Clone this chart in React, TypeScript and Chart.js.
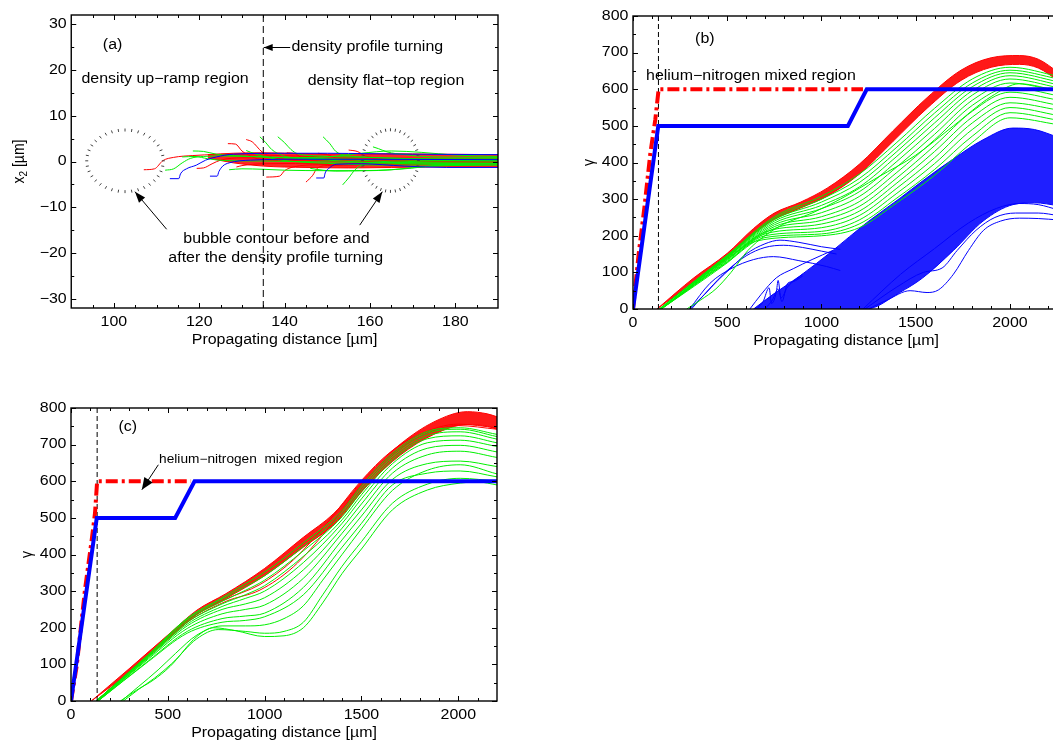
import React, { useEffect, useRef } from 'react';
import { Chart, registerables } from 'chart.js';

Chart.register(...registerables);

type P = [number, number];

const RED = '#ff0000';
const GREEN = '#00f000';
const BLUE = '#0000ff';
const SX = 1.14;
const FONT = '"Liberation Sans", Arial, Helvetica, sans-serif';

/* ================= panel (a) ================= */
const A_X_RANGE = [90, 190];
const A_Y_RANGE = [-32, 32];
const A_X_TICKS = [100, 120, 140, 160, 180];
const A_Y_TICKS = [-30, -20, -10, 0, 10, 20, 30];
const A_TURN_X = 135;
const A_BAND_X = [122, 128, 135, 145, 155, 165, 175, 190];
const A_BAND_TOP = [1.5, 1.8, 1.9, 1.7, 1.6, 1.7, 1.6, 1.5];
const A_BAND_BOT = [0.8, -0.3, -1.0, -1.3, -1.4, -1.3, -1.2, -1.2];
const A_RED: P[][] = [
  [[107, -1.8], [109.5, -1.6], [111.5, 0.2], [114, 0.9], [118.5, 1.3], [124, 1.5], [135, 1.4], [150, 1.0], [170, 0.7], [190, 0.6]],
  [[126.7, 3.9], [128.5, 3.8], [130, 2.3], [132, 1.2], [134.2, 0.5], [140, 0.2], [160, 0.0], [190, -0.2]],
  [[131, 4.8], [132.4, 4.3], [134.7, 2.1], [138, 0.7], [145, 0.4], [170, 0.3], [190, 0.2]],
  [[135.7, -3.4], [138.8, -3.2], [140, -2.0], [142, -1.2], [148, -0.7], [170, -0.5], [190, -0.5]],
  [[145, -4.5], [146.6, -3.0], [147.5, -1.6], [150, -0.9], [165, -0.7], [190, -0.6]],
  [[128.7, -1.2], [130, -0.9], [135, -0.5], [150, -0.4], [190, -0.3]],
  [[140.5, 1.9], [142.5, 1.7], [144, 0.8], [146, 0.3], [160, 0.1], [190, 0.0]],
  [[119.4, -1.5], [121, -1.4], [123, -0.5], [125, 0.3], [130, 0.8], [150, 0.6], [190, 0.4]],
  [[147.8, 1.8], [150, 1.5], [152, 0.8], [160, 0.4], [190, 0.3]],
  [[155, 2.5], [157, 2.2], [159, 1.2], [165, 0.6], [190, 0.5]],
];
const A_GREEN: P[][] = [
  [[112, -1.9], [114, -1.6], [116, -0.3], [118, 0.7], [121, 1.1], [125, 1.2], [135, 1.0], [150, 0.6], [170, 0.3], [190, 0.2]],
  [[118.5, 2.3], [121, 2.2], [124, 1.6], [130, 1.2], [140, 0.8], [155, 0.4], [170, -0.3], [190, -0.5]],
  [[134.2, 5.4], [135.5, 4.2], [137, 2.6], [139.5, 1.3], [142, 0.8], [150, 0.3], [165, -0.4], [190, -0.6]],
  [[138.4, 5.4], [140, 4.1], [141.5, 2.6], [143, 1.7], [148, 1.2], [160, 0.9], [175, 0.5], [190, 0.4]],
  [[149, 5.4], [150.5, 4.0], [152, 2.2], [154, 1.4], [160, 0.9], [175, 0.6], [190, 0.6]],
  [[153.6, -5.1], [155, -3.6], [156.5, -1.8], [158, -0.9], [165, -0.2], [180, 0.2], [190, 0.2]],
  [[160.7, 3.2], [162, 2.8], [164, 2.1], [168, 1.5], [175, 1.0], [190, 0.9]],
  [[127, -1.8], [130, -1.6], [135, -1.7], [140, -1.9], [150, -2.0], [160, -2.0], [168, -1.6], [175, -1.0], [190, -0.8]],
  [[140, 0.8], [150, 1.0], [158, 1.8], [165, 2.3], [172, 2.0], [180, 1.4], [190, 1.1]],
  [[131, 2.4], [133, 1.7], [136, 0.9], [140, 0.2], [150, -0.4], [165, -0.8], [190, -0.4]],
  [[146, -1.5], [149, -1.9], [152, -2.1], [158, -2.0], [165, -1.8], [175, -0.9], [190, -0.4]],
  [[116, 1.0], [119, 1.1], [122, 0.6], [126, 0.2], [135, 0.1], [160, -0.2], [190, -0.1]],
];
const A_BLUE: P[][] = [
  [[113.1, -3.75], [115.2, -3.75], [115.6, -2.7], [117, -1.6], [119.3, -0.8], [121.5, 0.3], [124, 1.0], [128, 1.6], [140, 1.8], [150, 1.8], [160, 1.7], [170, 1.6], [190, 1.5]],
  [[122.5, -3.2], [124.2, -3.2], [124.6, -2.2], [125.5, -1.0], [127, -0.3], [132, 0.3], [145, 0.5], [190, 0.4]],
  [[147.4, -3.6], [149.2, -3.6], [149.5, -2.5], [150.5, -1.4], [152.1, -0.6], [158, -0.5], [168, -1.0], [178, -1.3], [190, -1.3]],
];
const BUBBLE_CX = [102.6, 164.8];
const BUBBLE_CY = [0.15, 0.2];
const BUBBLE_RX = [8.97, 6.56];
const BUBBLE_RY = [6.73, 6.73];

/* ================= panel (b) ================= */
const B_X_RANGE = [0, 2260];
const B_Y_RANGE = [0, 800];
const B_X_TICKS = [0, 500, 1000, 1500, 2000];
const B_Y_TICKS = [0, 100, 200, 300, 400, 500, 600, 700, 800];
const B_TURN_X = 135;
const B_BLUE_STEP_X = [0, 134, 1140, 1240, 2260];
const B_BLUE_STEP_Y = [0, 500, 500, 600, 600];
const B_RED_STEP_X = [0, 30, 60, 92, 118, 136, 1220];
const B_RED_STEP_Y = [0, 150, 275, 425, 516, 600, 600];
const B_MASS_X = [640, 743, 885, 1061, 1238, 1415, 1537, 1700, 1857, 2016, 2130, 2260];
const B_MASS_TOP = [0, 40, 90, 160, 235, 302, 350, 410, 462, 494, 490, 468];
const B_MASS_BOT = [0, 0, 0, 0, 0, 45, 85, 160, 240, 285, 290, 282];
const B_RED_X = [127, 320, 500, 640, 750, 890, 1030, 1200, 1380, 1560, 1740, 1900, 2050, 2150, 2260];
const B_RED_TOP = [0, 84, 152, 220, 262, 292, 330, 395, 487, 577, 652, 686, 692, 682, 645];
const B_RED_BOT = [0, 72, 140, 205, 245, 276, 308, 368, 458, 548, 624, 660, 668, 658, 622];
const B_BLUE_LINES: P[][] = [
  [[300, 0], [380, 40], [450, 78], [520, 112], [600, 150], [700, 178], [780, 188], [880, 182], [1000, 170], [1100, 163]],
  [[310, 0], [400, 52], [500, 105], [600, 145], [700, 168], [800, 174], [900, 168], [1000, 158], [1080, 150]],
  [[300, 0], [408, 70], [520, 110], [640, 135], [745, 143], [880, 132], [1027, 116], [1100, 105]],
  [[655, 0], [690, 20], [722, 58], [735, 15], [760, 45], [770, 78], [785, 30], [820, 60], [900, 95]],
  [[700, 0], [740, 25], [770, 55], [790, 20], [820, 70], [850, 75], [900, 90]],
  [[620, 0], [680, 40], [760, 85], [850, 110], [950, 135], [1060, 160]],
  [[1250, 0], [1350, 25], [1470, 50], [1560, 45], [1620, 52], [1700, 95], [1780, 160], [1860, 215], [1950, 240], [2050, 248], [2150, 247], [2260, 243]],
  [[1230, 0], [1400, 60], [1540, 100], [1640, 112], [1720, 160], [1820, 215], [1920, 250], [2030, 262], [2150, 262], [2260, 255]],
  [[1220, 0], [1420, 95], [1600, 165], [1780, 235], [1930, 275], [2050, 288], [2150, 285], [2260, 270]],
];
const B_GREEN: P[][] = [
  [[140, 0], [500, 147], [750, 252], [1000, 308], [1200, 368], [1400, 455], [1600, 548], [1800, 628], [2000, 660], [2260, 635]],
  [[140, 0], [500, 146], [750, 248], [1000, 300], [1200, 356], [1400, 442], [1600, 535], [1800, 617], [2000, 652], [2260, 628]],
  [[140, 0], [500, 145], [750, 244], [1000, 292], [1200, 345], [1400, 430], [1600, 522], [1800, 607], [2000, 645], [2260, 620]],
  [[150, 0], [500, 143], [750, 240], [1000, 283], [1200, 333], [1400, 417], [1600, 508], [1800, 596], [2000, 637], [2260, 612]],
  [[150, 0], [500, 142], [750, 235], [1000, 274], [1200, 320], [1400, 403], [1600, 493], [1800, 584], [2000, 628], [2260, 604]],
  [[150, 0], [500, 140], [750, 230], [1000, 263], [1200, 307], [1400, 388], [1600, 477], [1800, 570], [2000, 617], [2260, 594]],
  [[150, 0], [500, 138], [750, 225], [1000, 252], [1200, 293], [1400, 373], [1600, 462], [1800, 556], [2000, 605], [2260, 582]],
  [[150, 0], [500, 137], [750, 220], [1000, 242], [1200, 280], [1400, 358], [1600, 446], [1800, 540], [2000, 592], [2260, 570]],
  [[150, 0], [500, 135], [700, 210], [1000, 232], [1200, 267], [1400, 344], [1600, 430], [1800, 524], [2000, 578], [2260, 556]],
  [[150, 0], [500, 133], [700, 205], [1000, 222], [1200, 255], [1400, 330], [1600, 413], [1800, 508], [2000, 563], [2260, 543]],
  [[150, 0], [500, 130], [700, 200], [1000, 212], [1200, 243], [1400, 316], [1600, 397], [1800, 490], [2000, 550], [2260, 528]],
  [[150, 0], [500, 128], [700, 195], [1000, 205], [1200, 232], [1400, 303], [1600, 381], [1800, 472], [2000, 536], [2260, 515]],
  [[150, 0], [500, 126], [650, 185], [1000, 200], [1200, 222], [1400, 290], [1600, 365], [1800, 455], [2000, 522], [2260, 503]],
  [[285, 0], [360, 25], [440, 55], [520, 100], [610, 160], [700, 200], [800, 232], [950, 262], [1100, 300], [1300, 360], [1500, 420], [1700, 500], [1900, 580], [2050, 615], [2260, 595]],
];

/* ================= panel (c) ================= */
const C_X_RANGE = [0, 2200];
const C_Y_RANGE = [0, 800];
const C_X_TICKS = [0, 500, 1000, 1500, 2000];
const C_Y_TICKS = [0, 100, 200, 300, 400, 500, 600, 700, 800];
const C_TURN_X = 135;
const C_BLUE_STEP_X = [0, 133, 538, 638, 2200];
const C_BLUE_STEP_Y = [0, 500, 500, 600, 600];
const C_RED_STEP_X = [0, 29, 72, 107, 124, 135, 620];
const C_RED_STEP_Y = [0, 94, 303, 440, 513, 600, 600];
const C_RED_X = [105, 300, 500, 650, 800, 1000, 1200, 1357, 1530, 1702, 1874, 2047, 2150, 2200];
const C_RED_TOP = [0, 88, 180, 248, 293, 362, 447, 512, 617, 702, 762, 790, 784, 776];
const C_RED_BOT = [0, 78, 168, 236, 280, 342, 420, 482, 588, 672, 728, 755, 750, 742];
const C_RED_LINES: P[][] = [
  [[130, 0], [400, 125], [600, 215], [800, 272], [976, 303], [1148, 366], [1321, 467], [1493, 586], [1650, 670], [1800, 722], [2000, 752], [2200, 742]],
  [[130, 0], [400, 128], [600, 220], [800, 278], [976, 318], [1148, 385], [1321, 485], [1493, 598], [1650, 680], [1800, 728], [2000, 756], [2200, 746]],
];
const C_GREEN: P[][] = [
  [[255, 0], [340, 30], [425, 57], [511, 94], [650, 176], [736, 200], [850, 192], [1000, 176], [1100, 178], [1200, 200], [1300, 268], [1400, 348], [1500, 415], [1660, 522], [1840, 576], [2010, 595], [2100, 598], [2200, 590]],
  [[270, 0], [350, 32], [430, 62], [520, 102], [650, 170], [760, 195], [900, 190], [1000, 185], [1100, 190], [1200, 215], [1300, 290], [1400, 368], [1500, 435], [1660, 540], [1840, 592], [2010, 608], [2200, 600]],
  [[260, 0], [350, 40], [450, 85], [540, 130], [650, 180], [780, 205], [900, 205], [1000, 208], [1100, 225], [1200, 260], [1300, 330], [1400, 400], [1500, 470], [1660, 575], [1840, 630], [2010, 645], [2200, 620]],
  [[140, 0], [400, 108], [600, 185], [780, 215], [900, 220], [1000, 230], [1200, 290], [1400, 420], [1500, 485], [1660, 590], [1840, 622], [2010, 628], [2200, 612]],
  [[140, 0], [400, 110], [600, 190], [780, 225], [900, 232], [1000, 240], [1200, 310], [1400, 440], [1500, 505], [1660, 605], [1840, 648], [2010, 655], [2200, 640]],
  [[140, 0], [400, 115], [600, 198], [780, 238], [900, 250], [1000, 262], [1200, 335], [1400, 458], [1500, 522], [1660, 622], [1840, 672], [2010, 682], [2200, 665]],
  [[140, 0], [400, 118], [600, 205], [780, 250], [900, 265], [1000, 282], [1200, 358], [1400, 472], [1500, 538], [1660, 636], [1840, 690], [2010, 698], [2200, 680]],
  [[135, 0], [400, 120], [600, 210], [780, 258], [900, 280], [1000, 300], [1200, 378], [1400, 485], [1500, 552], [1660, 648], [1840, 705], [2010, 712], [2200, 695]],
  [[135, 0], [400, 122], [600, 215], [780, 265], [900, 290], [1000, 315], [1200, 395], [1400, 495], [1500, 563], [1660, 657], [1840, 716], [2010, 724], [2200, 705]],
  [[130, 0], [400, 124], [600, 220], [780, 272], [900, 302], [1000, 330], [1200, 410], [1400, 503], [1500, 572], [1660, 664], [1840, 724], [2010, 735], [2200, 715]],
  [[130, 0], [400, 126], [600, 224], [780, 278], [900, 312], [1000, 342], [1200, 422], [1400, 512], [1500, 580], [1660, 670], [1840, 731], [2010, 742], [2200, 722]],
  [[130, 0], [400, 127], [600, 226], [780, 282], [900, 320], [1000, 352], [1200, 432], [1400, 520], [1500, 588], [1660, 676], [1840, 736], [2010, 746], [2200, 728]],
];

/* ================= helpers ================= */
const pts = (a: P[]) => a.map(([x, y]) => ({ x, y }));
const zip = (xs: number[], ys: number[]) => xs.map((x, i) => ({ x, y: ys[i] }));

function curve(data: any[], color: string, width: number, order: number, extra: any = {}) {
  return {
    data, borderColor: color, backgroundColor: color, borderWidth: width,
    pointRadius: 0, fill: false, cubicInterpolationMode: 'monotone', order, ...extra,
  };
}
function straight(data: any[], color: string, width: number, order: number, extra: any = {}) {
  return { data, borderColor: color, borderWidth: width, pointRadius: 0, fill: false, tension: 0, order, ...extra };
}
function band(ds: any[], xs: number[], top: number[], bot: number[], color: string, fillColor: string, order: number) {
  const i = ds.length;
  ds.push(curve(zip(xs, top), color, 1, order, { fill: i + 1, backgroundColor: fillColor }));
  ds.push(curve(zip(xs, bot), color, 1, order));
}

function drawText(ctx: CanvasRenderingContext2D, s: string, x: number, y: number, size: number, align: CanvasTextAlign = 'left', rot = 0) {
  ctx.save();
  ctx.translate(x, y);
  ctx.scale(SX, 1);
  if (rot) ctx.rotate(rot);
  ctx.font = `${size}px ${FONT}`;
  ctx.fillStyle = '#000';
  ctx.textAlign = align;
  ctx.textBaseline = 'middle';
  ctx.fillText(s, 0, 0);
  ctx.restore();
}
function drawParts(ctx: CanvasRenderingContext2D, parts: { t: string; size: number; dy: number }[], x: number, y: number, rot: number) {
  ctx.save();
  ctx.translate(x, y);
  ctx.scale(SX, 1);
  ctx.rotate(rot);
  ctx.fillStyle = '#000';
  ctx.textBaseline = 'middle';
  ctx.textAlign = 'left';
  let total = 0;
  parts.forEach((p) => { ctx.font = `${p.size}px ${FONT}`; total += ctx.measureText(p.t).width; });
  let cur = -total / 2;
  parts.forEach((p) => { ctx.font = `${p.size}px ${FONT}`; ctx.fillText(p.t, cur, p.dy); cur += ctx.measureText(p.t).width; });
  ctx.restore();
}
function drawArrow(ctx: CanvasRenderingContext2D, x1: number, y1: number, x2: number, y2: number, head: number, hw: number) {
  ctx.beginPath(); ctx.moveTo(x1, y1); ctx.lineTo(x2, y2); ctx.stroke();
  const a = Math.atan2(y2 - y1, x2 - x1);
  const c = Math.cos(a), s = Math.sin(a);
  ctx.beginPath();
  ctx.moveTo(x2, y2);
  ctx.lineTo(x2 - head * c + hw * s, y2 - head * s - hw * c);
  ctx.lineTo(x2 - head * c - hw * s, y2 - head * s + hw * c);
  ctx.closePath();
  ctx.fill();
}
const fmt = (v: number) => String(v).replace('-', '\u2212');
function minors(min: number, max: number, step: number, majors: number[]) {
  const out: number[] = [];
  for (let k = Math.ceil(min / step - 1e-9); k * step <= max + 1e-9; k++) {
    const v = k * step;
    if (v > min && v < max && !majors.includes(v)) out.push(v);
  }
  return out;
}

function makeDeco(o: any) {
  return {
    id: 'deco',
    afterDatasetsDraw(chart: any) {
      const ctx: CanvasRenderingContext2D = chart.ctx;
      const ca = chart.chartArea;
      const xs = chart.scales.x, ys = chart.scales.y;
      const X = (v: number) => xs.getPixelForValue(v);
      const Y = (v: number) => ys.getPixelForValue(v);
      ctx.save();
      (o.bubbles || []).forEach((b: any) => {
        const cx = X(b.cx), cy = Y(b.cy);
        const rx = Math.abs(X(b.cx + b.rx) - cx), ry = Math.abs(Y(b.cy + b.ry) - cy);
        ctx.strokeStyle = '#444'; ctx.lineWidth = 1;
        for (let i = 0; i < b.n; i++) {
          const t = (2 * Math.PI * i) / b.n;
          const c = Math.cos(t), s = Math.sin(t);
          ctx.beginPath();
          ctx.moveTo(cx + (rx - 1.5) * c, cy + (ry - 1.5) * s);
          ctx.lineTo(cx + (rx + 1.5) * c, cy + (ry + 1.5) * s);
          ctx.stroke();
        }
      });
      ctx.strokeStyle = '#000'; ctx.fillStyle = '#000'; ctx.lineWidth = 1;
      (o.arrows || []).forEach((a: any) => drawArrow(ctx, X(a.x1), Y(a.y1), X(a.x2), Y(a.y2), a.head || 11, a.hw || 4));
      (o.texts || []).forEach((t: any) => drawText(ctx, t.t, X(t.x), Y(t.y), t.size || 14, t.align || 'left'));
      // frame
      ctx.strokeStyle = '#000'; ctx.lineWidth = 1.4;
      ctx.strokeRect(ca.left, ca.top, ca.right - ca.left, ca.bottom - ca.top);
      ctx.lineWidth = 1;
      const tx = (v: number, len: number) => {
        const p = Math.round(X(v)) + 0.5;
        ctx.beginPath(); ctx.moveTo(p, ca.bottom); ctx.lineTo(p, ca.bottom - len);
        ctx.moveTo(p, ca.top); ctx.lineTo(p, ca.top + len); ctx.stroke();
      };
      const ty = (v: number, len: number) => {
        const p = Math.round(Y(v)) + 0.5;
        ctx.beginPath(); ctx.moveTo(ca.left, p); ctx.lineTo(ca.left + len, p);
        ctx.moveTo(ca.right, p); ctx.lineTo(ca.right - len, p); ctx.stroke();
      };
      o.xTicks.forEach((v: number) => tx(v, 5));
      o.yTicks.forEach((v: number) => ty(v, 5));
      minors(o.xRange[0], o.xRange[1], o.xMinor, o.xTicks).forEach((v) => tx(v, 3));
      minors(o.yRange[0], o.yRange[1], o.yMinor, o.yTicks).forEach((v) => ty(v, 3));
      // tick labels
      o.xTicks.forEach((v: number) => drawText(ctx, fmt(v), X(v), ca.bottom + 14, 14, 'center'));
      o.yTicks.forEach((v: number) => drawText(ctx, fmt(v), ca.left - 4.5, Y(v), 14, 'right'));
      // titles
      drawText(ctx, 'Propagating distance [\u00b5m]', (ca.left + ca.right) / 2, ca.bottom + 32, 14, 'center');
      drawParts(ctx, o.yTitle, ca.left - o.yTitleOff, (ca.top + ca.bottom) / 2, -Math.PI / 2);
      ctx.restore();
    },
  };
}

function buildConfig(s: any): any {
  return {
    type: 'line',
    data: { datasets: s.datasets },
    options: {
      animation: false, responsive: false, maintainAspectRatio: false, devicePixelRatio: 1, events: [],
      layout: { padding: { left: s.area.left, top: s.area.top, right: s.w - s.area.right, bottom: s.h - s.area.bottom } },
      elements: { point: { radius: 0 }, line: { capBezierPoints: false } },
      plugins: { legend: { display: false }, tooltip: { enabled: false } },
      scales: {
        x: { type: 'linear', display: false, min: s.deco.xRange[0], max: s.deco.xRange[1] },
        y: { type: 'linear', display: false, min: s.deco.yRange[0], max: s.deco.yRange[1] },
      },
    },
    plugins: [makeDeco(s.deco)],
  };
}

/* ================= panel specs ================= */
function specA() {
  const ds: any[] = [];
  band(ds, A_BAND_X, A_BAND_TOP, A_BAND_BOT, RED, 'rgba(255,0,0,0.85)', 50);
  A_RED.forEach((c) => ds.push(curve(pts(c), RED, 1, 40)));
  A_GREEN.forEach((c) => ds.push(curve(pts(c), GREEN, 1, 30)));
  A_BLUE.forEach((c) => ds.push(curve(pts(c), BLUE, 1, 20)));
  ds.push(straight([{ x: A_TURN_X, y: A_Y_RANGE[0] }, { x: A_TURN_X, y: A_Y_RANGE[1] }], '#000', 1, 10, { borderDash: [7, 4] }));
  return {
    w: 520, h: 360, left: 0, top: 0,
    area: { left: 71.25, top: 15, right: 498, bottom: 308 },
    datasets: ds,
    deco: {
      xRange: A_X_RANGE, yRange: A_Y_RANGE, xTicks: A_X_TICKS, yTicks: A_Y_TICKS, xMinor: 5, yMinor: 5,
      yTitle: [{ t: 'x', size: 14, dy: 0 }, { t: '2', size: 10, dy: 4 }, { t: ' [\u00b5m]', size: 14, dy: 0 }],
      yTitleOff: 51.5,
      bubbles: BUBBLE_CX.map((cx, i) => ({ cx, cy: BUBBLE_CY[i], rx: BUBBLE_RX[i], ry: BUBBLE_RY[i], n: 36 })),
      texts: [
        { t: '(a)', x: 97.4, y: 25.4 },
        { t: 'density up\u2212ramp region', x: 92.4, y: 18.0 },
        { t: 'density profile turning', x: 141.6, y: 24.9 },
        { t: 'density flat\u2212top region', x: 145.4, y: 17.65 },
        { t: 'bubble contour before and', x: 138.1, y: -17.0, align: 'center' },
        { t: 'after the density profile turning', x: 137.9, y: -21.0, align: 'center' },
      ],
      arrows: [
        { x1: 141.3, y1: 24.9, x2: 135.1, y2: 24.9, head: 9, hw: 3.5 },
        { x1: 112.35, y1: -14.8, x2: 104.93, y2: -6.6 },
        { x1: 157.6, y1: -13.9, x2: 162.9, y2: -6.6 },
      ],
    },
  };
}

function specB() {
  const ds: any[] = [];
  band(ds, B_MASS_X, B_MASS_TOP, B_MASS_BOT, BLUE, 'rgba(0,0,255,0.88)', 90);
  B_BLUE_LINES.forEach((c) => ds.push(curve(pts(c), BLUE, 1, 85)));
  band(ds, B_RED_X, B_RED_TOP, B_RED_BOT, RED, 'rgba(255,0,0,0.9)', 60);
  B_GREEN.forEach((c) => ds.push(curve(pts(c), GREEN, 1, 50)));
  ds.push(straight([{ x: B_TURN_X, y: B_Y_RANGE[0] }, { x: B_TURN_X, y: B_Y_RANGE[1] }], '#000', 1, 20, { borderDash: [5, 3] }));
  ds.push(straight(zip(B_RED_STEP_X, B_RED_STEP_Y), RED, 4, 15, { borderDash: [12, 4, 3, 4] }));
  ds.push(straight(zip(B_BLUE_STEP_X, B_BLUE_STEP_Y), BLUE, 4, 10));
  return {
    w: 520, h: 360, left: 560, top: 0,
    area: { left: 73, top: 16, right: 499, bottom: 309 },
    datasets: ds,
    deco: {
      xRange: B_X_RANGE, yRange: B_Y_RANGE, xTicks: B_X_TICKS, yTicks: B_Y_TICKS, xMinor: 100, yMinor: 50,
      yTitle: [{ t: '\u03b3', size: 14, dy: 0 }], yTitleOff: 43.5,
      texts: [
        { t: '(b)', x: 381, y: 737, align: 'center' },
        { t: 'helium\u2212nitrogen mixed region', x: 69, y: 637 },
      ],
      arrows: [],
    },
  };
}

function specC() {
  const ds: any[] = [];
  band(ds, C_RED_X, C_RED_TOP, C_RED_BOT, RED, 'rgba(255,0,0,0.9)', 60);
  C_RED_LINES.forEach((c) => ds.push(curve(pts(c), RED, 1, 58)));
  C_GREEN.forEach((c) => ds.push(curve(pts(c), GREEN, 1, 50)));
  ds.push(straight([{ x: C_TURN_X, y: C_Y_RANGE[0] }, { x: C_TURN_X, y: C_Y_RANGE[1] }], '#000', 1, 20, { borderDash: [5, 3] }));
  ds.push(straight(zip(C_RED_STEP_X, C_RED_STEP_Y), RED, 4, 15, { borderDash: [12, 4, 3, 4] }));
  ds.push(straight(zip(C_BLUE_STEP_X, C_BLUE_STEP_Y), BLUE, 4, 10));
  return {
    w: 520, h: 352, left: 0, top: 390,
    area: { left: 71, top: 18, right: 497, bottom: 311 },
    datasets: ds,
    deco: {
      xRange: C_X_RANGE, yRange: C_Y_RANGE, xTicks: C_X_TICKS, yTicks: C_Y_TICKS, xMinor: 100, yMinor: 50,
      yTitle: [{ t: '\u03b3', size: 14, dy: 0 }], yTitleOff: 43.5,
      texts: [
        { t: '(c)', x: 293, y: 747, align: 'center' },
        { t: 'helium\u2212nitrogen  mixed region', x: 455, y: 659, size: 12 },
      ],
      arrows: [{ x1: 451, y1: 645, x2: 366, y2: 577, head: 12, hw: 5 }],
    },
  };
}

function Panel({ make }: { make: () => any }) {
  const ref = useRef<HTMLCanvasElement>(null);
  const spec = make();
  useEffect(() => {
    const chart = new Chart(ref.current as HTMLCanvasElement, buildConfig(make()));
    return () => chart.destroy();
  }, []);
  return (
    <canvas
      ref={ref}
      width={spec.w}
      height={spec.h}
      style={{ position: 'absolute', left: spec.left, top: spec.top, width: spec.w, height: spec.h }}
    />
  );
}

export default function App() {
  return (
    <div style={{ position: 'fixed', left: 0, top: 0, width: 1053, height: 742, overflow: 'hidden', background: '#fff' }}>
      <Panel make={specA} />
      <Panel make={specB} />
      <Panel make={specC} />
    </div>
  );
}
